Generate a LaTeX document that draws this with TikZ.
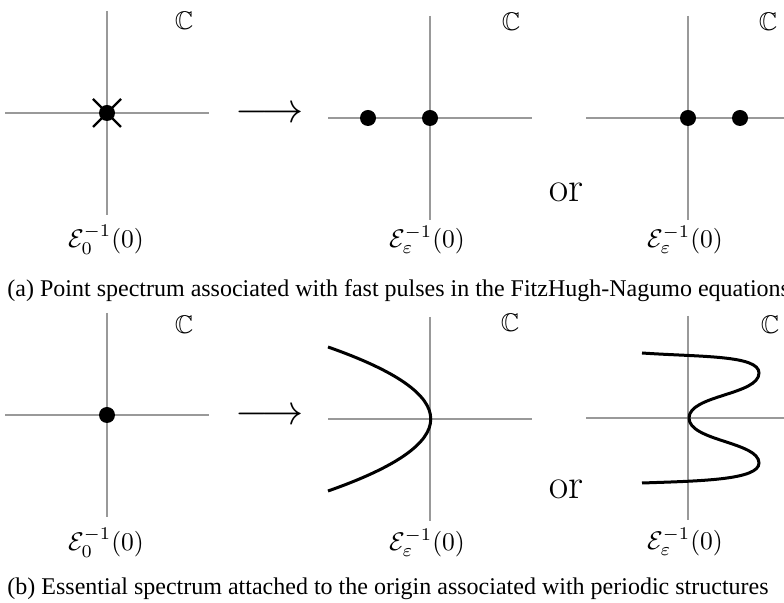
\documentclass[tikz,border=0pt]{standalone}
\usepackage[no-math]{fontspec}
\setmainfont{Liberation Serif}
\usepackage{amssymb}

\begin{document}
\begin{tikzpicture}[x=0.45pt, y=-0.45pt,
    axis/.style={black!40, line width=0.9pt},
    spec/.style={black, line width=1.35pt},
    lbl/.style={scale=1.15, inner sep=0pt},
    big/.style={font=\LARGE, scale=1.1, inner sep=0pt},
    captext/.style={anchor=base west, inner sep=0pt, font=\fontsize{10.8}{13}\selectfont}]
    \useasboundingbox (0,0) rectangle (784,603);

    % Gốc tọa độ của các mặt phẳng phức
    \coordinate (Oa1) at (107,113);
    \coordinate (Oa2) at (430,118);
    \coordinate (Oa3) at (688,118);
    \coordinate (Ob1) at (107,415);
    \coordinate (Ob2) at (430,419);
    \coordinate (Ob3) at (688,418);

    % Trục
    \foreach \o in {Oa1,Oa2,Oa3,Ob1,Ob2,Ob3} {
        \draw[axis] (\o) ++(-102,0) -- ++(204,0);
        \draw[axis] (\o) ++(0,-102) -- ++(0,204);
    }

    % Phổ điểm (a)
    \coordinate (Pa2) at (368,118);
    \coordinate (Pa3) at (740,118);
    \draw[black, line width=1.1pt] (Oa1) ++(-14,-14) -- ++(28,28);
    \draw[black, line width=1.1pt] (Oa1) ++(-14,14) -- ++(28,-28);
    \fill (Oa1) circle (3.6pt);
    \fill (Oa2) circle (3.6pt);
    \fill (Pa2) circle (3.6pt);
    \fill (Oa3) circle (3.6pt);
    \fill (Pa3) circle (3.6pt);

    % Phổ cốt yếu (b)
    \fill (Ob1) circle (3.6pt);
    \draw[spec] (328,347) .. controls (465,395) and (465,443) .. (328,491);
    \draw[spec] (642,353) .. controls (700,357) and (759,355) .. (759,373)
        .. controls (759,395) and (689,395) .. (689,418)
        .. controls (689,441) and (759,442) .. (759,463)
        .. controls (759,480) and (700,481) .. (642,483);

    % Nhãn C
    \node[lbl] (Ca1) at (184,21) {$\mathbb{C}$};
    \node[lbl] (Ca2) at (511,22) {$\mathbb{C}$};
    \node[lbl] (Ca3) at (768,22) {$\mathbb{C}$};
    \node[lbl] (Cb1) at (184,325) {$\mathbb{C}$};
    \node[lbl] (Cb2) at (510,323) {$\mathbb{C}$};
    \node[lbl] (Cb3) at (770,325) {$\mathbb{C}$};

    % Nhãn E^{-1}(0)
    \node[lbl] (La1) at (106,240) {$\mathcal{E}_0^{-1}(0)$};
    \node[lbl] (La2) at (427,240) {$\mathcal{E}_\varepsilon^{-1}(0)$};
    \node[lbl] (La3) at (685,240) {$\mathcal{E}_\varepsilon^{-1}(0)$};
    \node[lbl] (Lb1) at (106,543) {$\mathcal{E}_0^{-1}(0)$};
    \node[lbl] (Lb2) at (427,543) {$\mathcal{E}_\varepsilon^{-1}(0)$};
    \node[lbl] (Lb3) at (685,542) {$\mathcal{E}_\varepsilon^{-1}(0)$};

    % Mũi tên và "or"
    \node[big] (ARa) at (270,115) {$\longrightarrow$};
    \node[big] (ARb) at (270,417) {$\longrightarrow$};
    \node[big] (ORa) at (566,192) {$\mathrm{or}$};
    \node[big] (ORb) at (566,489) {$\mathrm{or}$};

    % Chú thích
    \node[captext] (CapA) at (7,297)
        {(a) Point spectrum associated with fast pulses in the FitzHugh-Nagumo equations};
    \node[captext] (CapB) at (7,595)
        {(b) Essential spectrum attached to the origin associated with periodic structures};
\end{tikzpicture}
\end{document}
